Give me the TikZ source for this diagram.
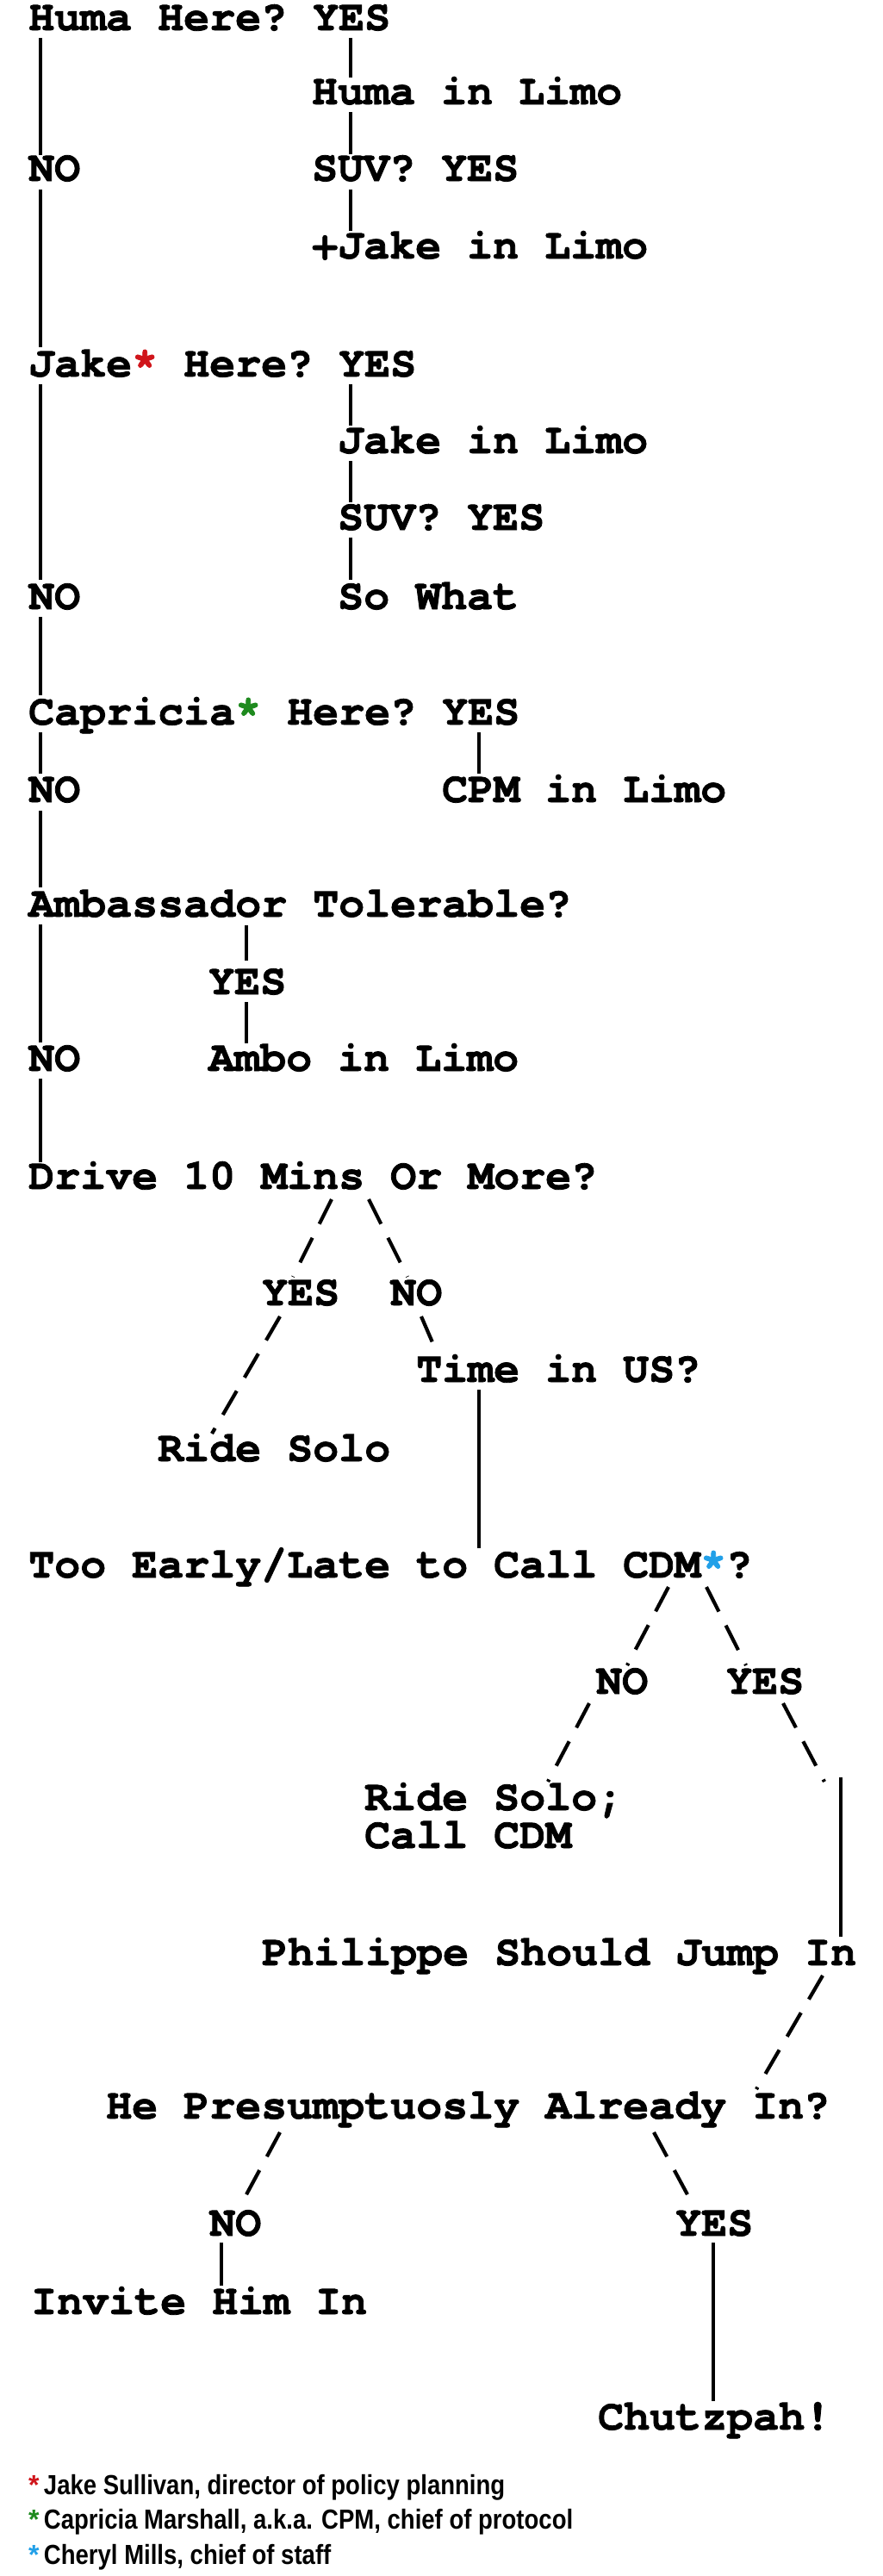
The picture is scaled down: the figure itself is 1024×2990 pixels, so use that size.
\documentclass[tikz,border=0pt]{standalone}
\usepackage{fontspec}
\setmonofont[BoldFeatures={FakeBold=1.6}]{TeX Gyre Cursor}
\newfontfamily\footfont{Liberation Sans}
\definecolor{sred}{HTML}{D0151B}
\definecolor{sgreen}{HTML}{1E8A1E}
\definecolor{sblue}{HTML}{22A0E8}
\tikzset{
  t/.style={anchor=base west,inner sep=0pt,font=\ttfamily\bfseries\fontsize{50bp}{60bp}\selectfont},
  fn/.style={anchor=base west,inner sep=0pt,font=\footfont\bfseries\fontsize{32bp}{38bp}\selectfont},
  ln/.style={line width=4.2bp},
  dl/.style={line width=4.2bp,dash pattern=on 32bp off 18bp}
}
\begin{document}
\begin{tikzpicture}[x=1bp,y=-1bp]
\useasboundingbox (0,0) rectangle (1024,2990);
\node[t] (q1) at (33,35) {Huma Here? YES};
\node[t] (a1) at (362,121) {Huma in Limo};
\node[t] (no1) at (33,210) {NO};
\node[t] (s1) at (362,210) {SUV? YES};
\node[t] (a2) at (362,300) {+Jake in Limo};
\node[t] (q2) at (33,437) {Jake\textcolor{sred}{*} Here? YES};
\node[t] (b1) at (392,526) {Jake in Limo};
\node[t] (s2) at (392,615) {SUV? YES};
\node[t] (no2) at (33,707) {NO};
\node[t] (b2) at (392,707) {So What};
\node[t] (q3) at (33,841) {Capricia\textcolor{sgreen}{*} Here? YES};
\node[t] (no3) at (33,931) {NO};
\node[t] (c1) at (513,931) {CPM in Limo};
\node[t] (q4) at (33,1064) {Ambassador Tolerable?};
\node[t] (y4) at (242,1154) {YES};
\node[t] (no4) at (33,1243) {NO};
\node[t] (d1) at (242,1243) {Ambo in Limo};
\node[t] (q5) at (33,1380) {Drive 10 Mins Or More?};
\node[t] (y5) at (304,1515) {YES};
\node[t] (n5) at (453,1515) {NO};
\node[t] (q6) at (483,1604) {Time in US?};
\node[t] (r1) at (183,1696) {Ride Solo};
\node[t] (q7) at (33,1831) {Too Early/Late to Call CDM\textcolor{sblue}{*}?};
\node[t] (n7) at (692,1966) {NO};
\node[t] (y7) at (843,1966) {YES};
\node[t] (r2) at (423,2101) {Ride Solo;};
\node[t] (r3) at (423,2145) {Call CDM};
\node[t] (p1) at (304,2281) {Philippe Should Jump In};
\node[t] (q8) at (123,2459) {He Presumptuosly Already In?};
\node[t] (n8) at (243,2595) {NO};
\node[t] (y8) at (784,2595) {YES};
\node[t] (i1) at (36,2686) {Invite Him In};
\node[t] (ch) at (694,2820) {Chutzpah!};
% left spine
\draw[ln] (47,44) -- (47,180);
\draw[ln] (47,220) -- (47,403);
\draw[ln] (47,446) -- (47,673);
\draw[ln] (47,716) -- (47,807);
\draw[ln] (47,850) -- (47,898);
\draw[ln] (47,941) -- (47,1030);
\draw[ln] (47,1073) -- (47,1210);
\draw[ln] (47,1252) -- (47,1349);
% branches
\draw[ln] (407,44) -- (407,90);
\draw[ln] (407,130) -- (407,179);
\draw[ln] (407,220) -- (407,268);
\draw[ln] (407,446) -- (407,494);
\draw[ln] (407,535) -- (407,583);
\draw[ln] (407,624) -- (407,673);
\draw[ln] (556,850) -- (556,898);
\draw[ln] (286,1074) -- (286,1115);
\draw[ln] (286,1163) -- (286,1211);
% lower part
\draw[dl] (385,1392) -- (340,1482);
\draw[dl] (428,1392) -- (473,1482);
\draw[dl] (325,1528) -- (246,1664);
\draw[dl] (489,1528) -- (508,1572);
\draw[ln] (556,1613) -- (556,1797);
\draw[dl] (776,1842) -- (728,1933);
\draw[dl] (820,1842) -- (866,1933);
\draw[dl] (684,1977) -- (636,2068);
\draw[dl] (909,1977) -- (957,2068);
\draw[ln] (976,2063) -- (976,2248);
\draw[dl] (955,2293) -- (878,2425);
\draw[dl] (325,2475) -- (278,2562);
\draw[dl] (759,2475) -- (806,2562);
\draw[ln] (257,2603) -- (257,2653);
\draw[ln] (828,2603) -- (828,2787);
% footnotes
\node[fn] (f1) at (33,2895) {\textcolor{sred}{*}\,\scalebox{0.86}[1]{Jake Sullivan, director of policy planning}};
\node[fn] (f2) at (33,2935) {\textcolor{sgreen}{*}\,\scalebox{0.86}[1]{Capricia Marshall, a.k.a. CPM, chief of protocol}};
\node[fn] (f3) at (33,2976) {\textcolor{sblue}{*}\,\scalebox{0.86}[1]{Cheryl Mills, chief of staff}};
\end{tikzpicture}
\end{document}
